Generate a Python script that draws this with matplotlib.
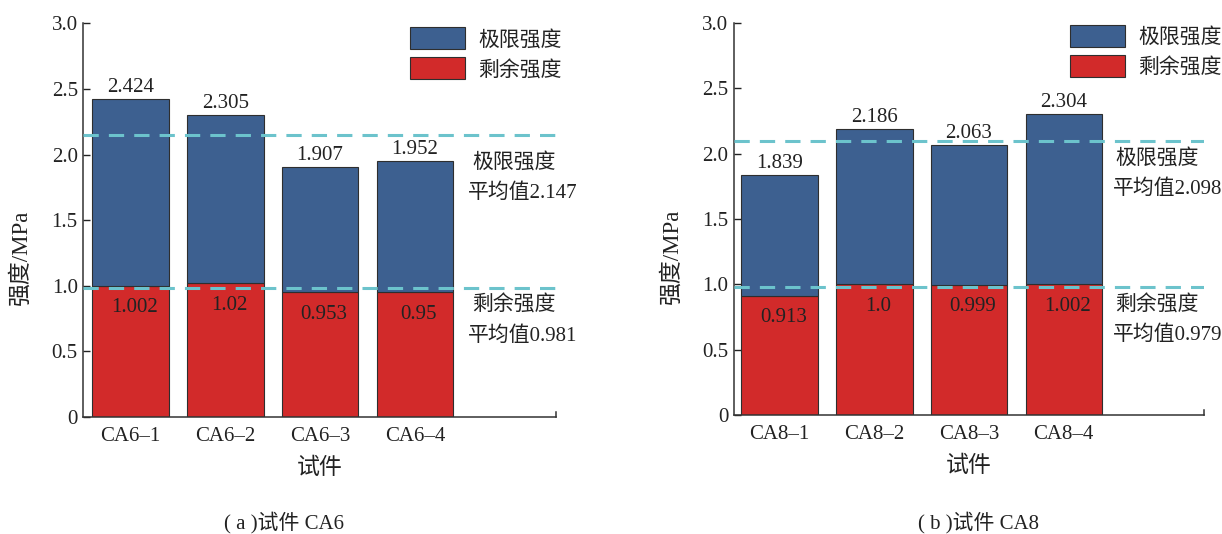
import matplotlib
matplotlib.use("Agg")
import matplotlib.pyplot as plt
from matplotlib.patches import Patch

plt.rcParams['font.family'] = ['Liberation Serif', 'Noto Sans CJK SC']
plt.rcParams['font.size'] = 15
plt.rcParams['text.color'] = '#222222'
plt.rcParams['axes.labelcolor'] = '#222222'
plt.rcParams['xtick.color'] = '#222222'
plt.rcParams['ytick.color'] = '#222222'

# 试件 CA6
ca6_names = ['CA6–1', 'CA6–2', 'CA6–3', 'CA6–4']
ca6_ultimate = [2.424, 2.305, 1.907, 1.952]
ca6_residual = [1.002, 1.02, 0.953, 0.95]
ca6_ult_mean = 2.147
ca6_res_mean = 0.981

# 试件 CA8
ca8_names = ['CA8–1', 'CA8–2', 'CA8–3', 'CA8–4']
ca8_ultimate = [1.839, 2.186, 2.063, 2.304]
ca8_residual = [0.913, 1.0, 0.999, 1.002]
ca8_ult_mean = 2.098
ca8_res_mean = 0.979

yticks = [0, 0.5, 1.0, 1.5, 2.0, 2.5, 3.0]
ytick_labels = ['0', '0.5', '1.0', '1.5', '2.0', '2.5', '3.0']

blue = '#3d6090'
red = '#d22a2a'
dash_col = '#6cc3cc'
edge = '#2e2e2e'

fig = plt.figure(figsize=(12.22, 5.34), dpi=100)
ax_a = fig.add_axes([0.0682, 0.219, 0.3868, 0.737])
ax_b = fig.add_axes([0.6007, 0.2228, 0.3846, 0.734])


def draw_panel(ax, names, ult, res, ult_mean, res_mean, xlim, legend_x, legend_y,
               note_x, note_y, caption, caption_x):
    x = list(range(len(names)))
    w = 0.807
    ax.bar(x, res, width=w, color=red, edgecolor=edge, linewidth=0.8, zorder=2)
    ax.bar(x, [u - r for u, r in zip(ult, res)], bottom=res, width=w,
           color=blue, edgecolor=edge, linewidth=0.8, zorder=2)

    for xi, u, r in zip(x, ult, res):
        ax.annotate(str(u), (xi, u), xytext=(0, 1.5), textcoords='offset points',
                    ha='center', va='bottom', zorder=4)
        ax.text(xi + 0.04, r - 0.17, str(r), ha='center', va='center', zorder=4)

    ax.axhline(ult_mean, color=dash_col, lw=2.2, dashes=(5, 3.3), zorder=3)
    ax.axhline(res_mean, color=dash_col, lw=2.2, dashes=(5, 3.3), zorder=3)

    ax.text(note_x[0], note_y[0], '极限强度', ha='left', va='center')
    ax.text(note_x[1], note_y[1], '平均值%.3f' % ult_mean, ha='left', va='center')
    ax.text(note_x[0], note_y[2], '剩余强度', ha='left', va='center')
    ax.text(note_x[1], note_y[3], '平均值%.3f' % res_mean, ha='left', va='center')

    ax.set_xlim(*xlim)
    ax.set_ylim(0, 3.0)
    ax.set_xticks(x)
    ax.set_xticklabels(names)
    ax.set_yticks(yticks)
    ax.set_yticklabels(ytick_labels)
    ax.tick_params(axis='x', length=0, pad=7)
    ax.tick_params(axis='y', direction='in', length=5, width=1, pad=4)

    ax.spines['top'].set_visible(False)
    ax.spines['right'].set_bounds(0, 0.04)
    for s in ['left', 'bottom', 'right']:
        ax.spines[s].set_linewidth(1.1)
        ax.spines[s].set_color('#333333')

    ax.text(-0.132, 0.405, '强度/MPa', rotation=90, ha='center', va='center',
            fontsize=16.5, transform=ax.transAxes)
    ax.text(0.5, -0.13, '试件', ha='center', va='center', fontsize=16.5,
            transform=ax.transAxes)

    handles = [Patch(facecolor=blue, edgecolor=edge, linewidth=0.8),
               Patch(facecolor=red, edgecolor=edge, linewidth=0.8)]
    ax.legend(handles, ['极限强度', '剩余强度'], loc='upper left',
              bbox_to_anchor=(legend_x, legend_y), frameon=False, borderpad=0,
              borderaxespad=0, handlelength=2.64, handleheight=1.25,
              labelspacing=0.33, handletextpad=0.63)

    fig.text(caption_x, 0.022, caption, ha='center', va='center')


draw_panel(ax_a, ca6_names, ca6_ultimate, ca6_residual, ca6_ult_mean, ca6_res_mean,
           (-0.498, 4.49), 0.691, 0.99, (3.61, 3.56), (1.94, 1.706, 0.853, 0.617),
           '( a )试件 CA6', 284 / 1222)
draw_panel(ax_b, ca8_names, ca8_ultimate, ca8_residual, ca8_ult_mean, ca8_res_mean,
           (-0.48, 4.48), 0.715, 0.995, (3.54, 3.52), (1.965, 1.73, 0.845, 0.61),
           '( b )试件 CA8', 978 / 1222)

fig.savefig('out.png', dpi=100)
